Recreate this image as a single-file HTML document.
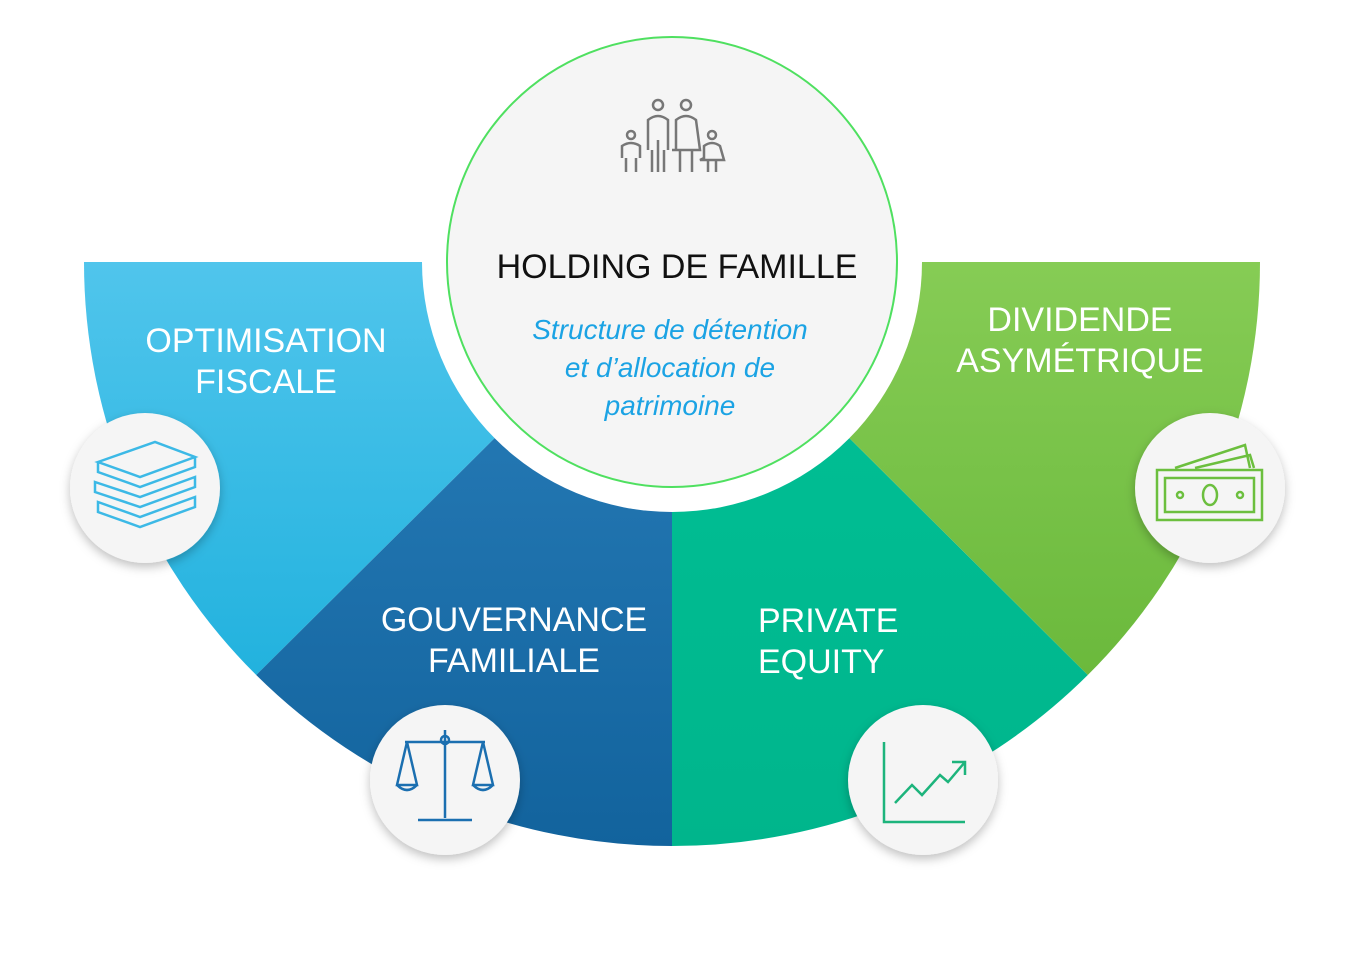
<!DOCTYPE html>
<html><head><meta charset="utf-8"><style>
html,body{margin:0;padding:0;background:#fff;}
svg{display:block;}
text{font-family:"Liberation Sans",sans-serif;}
</style></head><body>
<svg width="1357" height="953" viewBox="0 0 1357 953" xmlns="http://www.w3.org/2000/svg">
<defs>
<linearGradient id="g1" x1="0" y1="0" x2="0" y2="1"><stop offset="0" stop-color="#50c5ec"/><stop offset="1" stop-color="#22b2de"/></linearGradient>
<linearGradient id="g2" x1="0" y1="0" x2="0" y2="1"><stop offset="0" stop-color="#2a7fbb"/><stop offset="1" stop-color="#12639d"/></linearGradient>
<linearGradient id="g3" x1="0" y1="0" x2="0" y2="1"><stop offset="0" stop-color="#00c196"/><stop offset="1" stop-color="#00b58c"/></linearGradient>
<linearGradient id="g4" x1="0" y1="0" x2="0" y2="1"><stop offset="0" stop-color="#86cc55"/><stop offset="1" stop-color="#6bb93c"/></linearGradient>
<filter id="sh" x="-30%" y="-30%" width="160%" height="160%"><feDropShadow dx="0" dy="4" stdDeviation="5" flood-color="#000" flood-opacity="0.25"/></filter>
</defs>
<path d="M672,262 L84,262 A588,584 0 0 0 256.2,675 Z" fill="url(#g1)"/>
<path d="M672,262 L256.2,675 A588,584 0 0 0 672,846 Z" fill="url(#g2)"/>
<path d="M672,262 L672,846 A588,584 0 0 0 1087.8,675 Z" fill="url(#g3)"/>
<path d="M672,262 L1087.8,675 A588,584 0 0 0 1260,262 Z" fill="url(#g4)"/>
<circle cx="672" cy="262" r="250" fill="#fff"/>
<circle cx="672" cy="262" r="225" fill="#f5f5f5" stroke="#4fe060" stroke-width="2"/>
<g fill="none" stroke="#777" stroke-width="2.5">
<circle cx="658" cy="105" r="5"/><circle cx="686" cy="105" r="5"/>
<circle cx="631" cy="135" r="4"/><circle cx="712" cy="135" r="4"/>
<path d="M648,150 V120 Q658,112 668,120 V150 M652,150 V172 M664,150 V172 M658,140 V172"/>
<path d="M676,150 V120 Q686,112 696,120 L700,150 H672 Z M680,150 V172 M692,150 V172"/>
<path d="M622,158 V146 Q631,140 640,146 V158 M626,158 V172 M636,158 V172"/>
<path d="M704,158 V146 Q712,140 720,146 L724,160 H700 Z M708,160 V172 M716,160 V172"/>
</g>
<text x="677" y="278" font-size="34" text-anchor="middle" fill="#111">HOLDING DE FAMILLE</text>
<g font-size="28" font-style="italic" fill="#1ba3e4" text-anchor="middle">
<text x="670" y="339">Structure de détention</text>
<text x="670" y="377">et d’allocation de</text>
<text x="670" y="415">patrimoine</text>
</g>
<g font-size="34" fill="#fff">
<text x="266" y="352" text-anchor="middle">OPTIMISATION</text>
<text x="266" y="393" text-anchor="middle">FISCALE</text>
<text x="514" y="631" text-anchor="middle">GOUVERNANCE</text>
<text x="514" y="672" text-anchor="middle">FAMILIALE</text>
<text x="758" y="632">PRIVATE</text>
<text x="758" y="673">EQUITY</text>
<text x="1080" y="331" text-anchor="middle">DIVIDENDE</text>
<text x="1080" y="372" text-anchor="middle">ASYMÉTRIQUE</text>
</g>
<g filter="url(#sh)" fill="#f5f5f5">
<circle cx="145" cy="488" r="75"/><circle cx="445" cy="780" r="75"/>
<circle cx="923" cy="780" r="75"/><circle cx="1210" cy="488" r="75"/>
</g>
<g fill="none" stroke="#3cb9e6" stroke-width="2.5">
<path d="M98,462 L155,442 L195,457 L140,477 Z M98,462 V472 L140,487 L195,467 V457"/>
<path d="M95,482 L140,497 L195,477 V487 L140,507 L95,492 Z"/>
<path d="M98,502 L140,517 L195,497 V507 L140,527 L98,512 Z"/>
</g>
<g fill="none" stroke="#1b6fb0" stroke-width="2.5">
<path d="M445,730 V818 M418,820 H472 M405,742 H485"/>
<circle cx="445" cy="740" r="4"/>
<path d="M407,742 L397,785 H417 Z M483,742 L473,785 H493 Z M397,785 Q407,795 417,785 M473,785 Q483,795 493,785"/>
</g>
<g fill="none" stroke="#1db47c" stroke-width="2.5">
<path d="M884,742 V822 H965"/>
<path d="M895,803 L912,785 L922,795 L940,775 L948,782 L965,762 M952,762 H965 V775"/>
</g>
<g fill="none" stroke="#6cbf3e" stroke-width="2.5">
<path d="M1157,470 H1262 V520 H1157 Z M1165,478 H1254 V512 H1165 Z"/>
<ellipse cx="1210" cy="495" rx="7" ry="10"/>
<circle cx="1180" cy="495" r="3"/><circle cx="1240" cy="495" r="3"/>
<path d="M1175,468 L1245,445 L1250,468 M1195,468 L1250,455 L1254,468"/>
</g>
</svg>
</body></html>
